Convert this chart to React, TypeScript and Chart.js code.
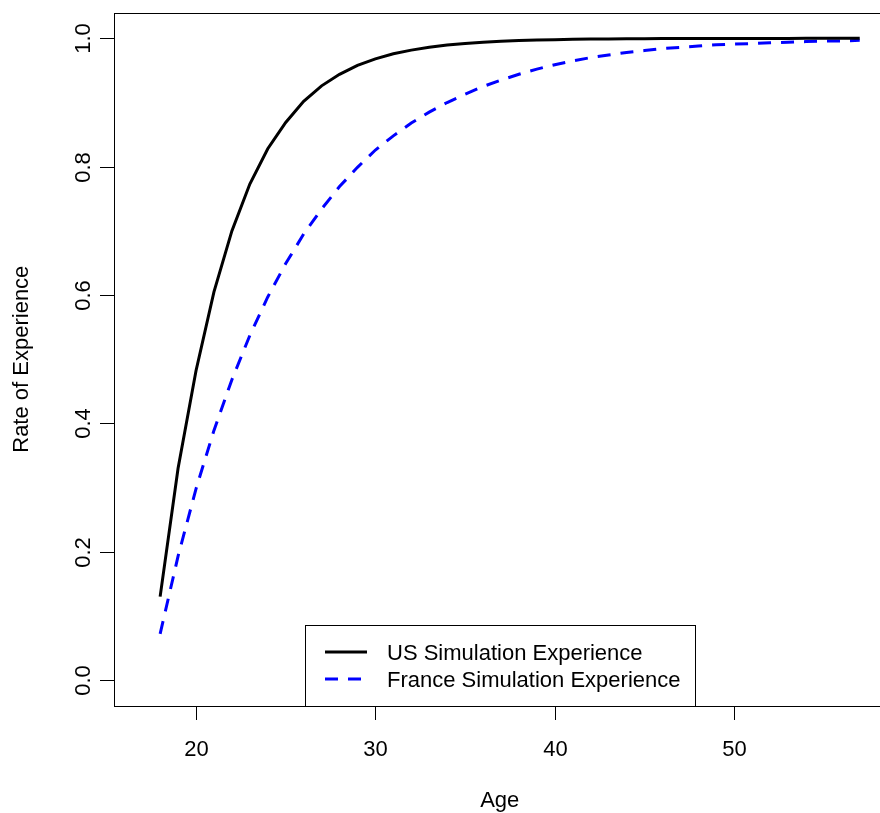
import React, { useEffect, useRef } from "react";
import { Chart, registerables } from "chart.js";

Chart.register(...registerables);

const ages = [18, 19, 20, 21, 22, 23, 24, 25, 26, 27, 28, 29, 30, 31, 32, 33, 34, 35, 36, 37, 38, 39, 40, 41, 42, 43, 44, 45, 46, 47, 48, 49, 50, 51, 52, 53, 54, 55, 56, 57];
const usExperience = [0.13, 0.33, 0.482, 0.605, 0.7, 0.773, 0.828, 0.869, 0.902, 0.926, 0.944, 0.958, 0.968, 0.976, 0.9817, 0.9861, 0.9895, 0.9921, 0.9940, 0.9955, 0.9966, 0.9974, 0.9980, 0.9985, 0.9989, 0.9992, 0.9994, 0.9995, 0.9996, 0.9997, 0.9998, 0.9998, 0.9999, 0.9999, 0.9999, 0.9999, 1.0, 1.0, 1.0, 1.0];
const franceExperience = [0.072, 0.193, 0.298, 0.389, 0.468, 0.537, 0.597, 0.649, 0.695, 0.734, 0.769, 0.799, 0.826, 0.848, 0.868, 0.885, 0.9, 0.913, 0.925, 0.935, 0.944, 0.952, 0.959, 0.965, 0.97, 0.974, 0.978, 0.981, 0.984, 0.986, 0.988, 0.99, 0.991, 0.992, 0.993, 0.994, 0.995, 0.996, 0.996, 0.997];
const xTicks = [20, 30, 40, 50];
const yTicks = [0.0, 0.2, 0.4, 0.6, 0.8, 1.0];
const yTickLabels = ["0.0", "0.2", "0.4", "0.6", "0.8", "1.0"];
const seriesNames = ["US Simulation Experience", "France Simulation Experience"];
const xTitle = "Age";
const yTitle = "Rate of Experience";

const FONT = "22px 'Liberation Sans', Arial, sans-serif";

const rAxesPlugin = {
  id: "rAxes",
  afterDraw(chart: any) {
    const ctx = chart.ctx;
    const ca = chart.chartArea;
    const xs = chart.scales.x;
    const ys = chart.scales.y;
    ctx.save();
    ctx.strokeStyle = "#000";
    ctx.fillStyle = "#000";
    ctx.lineWidth = 1;
    // box
    ctx.strokeRect(Math.round(ca.left) + 0.5, Math.round(ca.top) + 0.5, ca.right + 5 - Math.round(ca.left), Math.round(ca.bottom) - Math.round(ca.top));
    ctx.font = FONT;
    // x ticks
    ctx.textAlign = "center";
    ctx.textBaseline = "alphabetic";
    xTicks.forEach((t) => {
      const px = Math.round(xs.getPixelForValue(t)) + 0.5;
      ctx.beginPath();
      ctx.moveTo(px, Math.round(ca.bottom));
      ctx.lineTo(px, Math.round(ca.bottom) + 14);
      ctx.stroke();
      ctx.fillText(String(t), px, 756);
    });
    // y ticks
    yTicks.forEach((t, i) => {
      const py = Math.round(ys.getPixelForValue(t)) + 0.5;
      ctx.beginPath();
      ctx.moveTo(Math.round(ca.left), py);
      ctx.lineTo(Math.round(ca.left) - 14, py);
      ctx.stroke();
      ctx.save();
      ctx.translate(90, py);
      ctx.rotate(-Math.PI / 2);
      ctx.textAlign = "center";
      ctx.fillText(yTickLabels[i], 0, 0);
      ctx.restore();
    });
    // titles
    ctx.textAlign = "center";
    ctx.fillText(xTitle, (ca.left + 880) / 2 + 3, 807);
    ctx.save();
    ctx.translate(28, (ca.top + ca.bottom) / 2);
    ctx.rotate(-Math.PI / 2);
    ctx.fillText(yTitle, 0, 0);
    ctx.restore();
    // legend
    const lx = 305.5, ly = 625.5, lw = 390, lh = Math.round(ca.bottom) - 625;
    ctx.fillStyle = "#fff";
    ctx.fillRect(lx, ly, lw, lh);
    ctx.strokeStyle = "#000";
    ctx.strokeRect(lx, ly, lw, lh);
    ctx.lineWidth = 3;
    ctx.beginPath();
    ctx.moveTo(325, 652);
    ctx.lineTo(367, 652);
    ctx.stroke();
    ctx.strokeStyle = "#0000ff";
    ctx.setLineDash([13, 10]);
    ctx.beginPath();
    ctx.moveTo(325, 679);
    ctx.lineTo(368, 679);
    ctx.stroke();
    ctx.setLineDash([]);
    ctx.fillStyle = "#000";
    ctx.textAlign = "left";
    ctx.fillText(seriesNames[0], 387, 660);
    ctx.fillText(seriesNames[1], 387, 687);
    ctx.restore();
  },
};

export default function App() {
  const ref = useRef<HTMLCanvasElement | null>(null);
  useEffect(() => {
    if (!ref.current) return;
    const chart = new Chart(ref.current, {
      type: "line",
      data: {
        datasets: [
          {
            label: seriesNames[0],
            data: ages.map((a, i) => ({ x: a, y: usExperience[i] })),
            borderColor: "#000",
            borderWidth: 3,
            pointRadius: 0,
            fill: false,
            tension: 0,
          },
          {
            label: seriesNames[1],
            data: ages.map((a, i) => ({ x: a, y: franceExperience[i] })),
            borderColor: "#0000ff",
            borderWidth: 3,
            borderDash: [13, 10],
            pointRadius: 0,
            fill: false,
            tension: 0,
          },
        ],
      },
      options: {
        responsive: false,
        animation: false,
        layout: { padding: { left: 113.5, top: 12.7, right: 0, bottom: 107.3 } },
        plugins: { legend: { display: false }, tooltip: { enabled: false } },
        scales: {
          x: { type: "linear", min: 15.4, max: 58.13, display: false },
          y: { type: "linear", min: -0.04, max: 1.04, display: false },
        },
      },
      plugins: [rAxesPlugin],
    });
    return () => chart.destroy();
  }, []);
  return (
    <div style={{ position: "fixed", left: 0, top: 0, width: 880, height: 813, background: "#fff" }}>
      <canvas ref={ref} width={880} height={813} style={{ width: 880, height: 813 }} />
    </div>
  );
}
